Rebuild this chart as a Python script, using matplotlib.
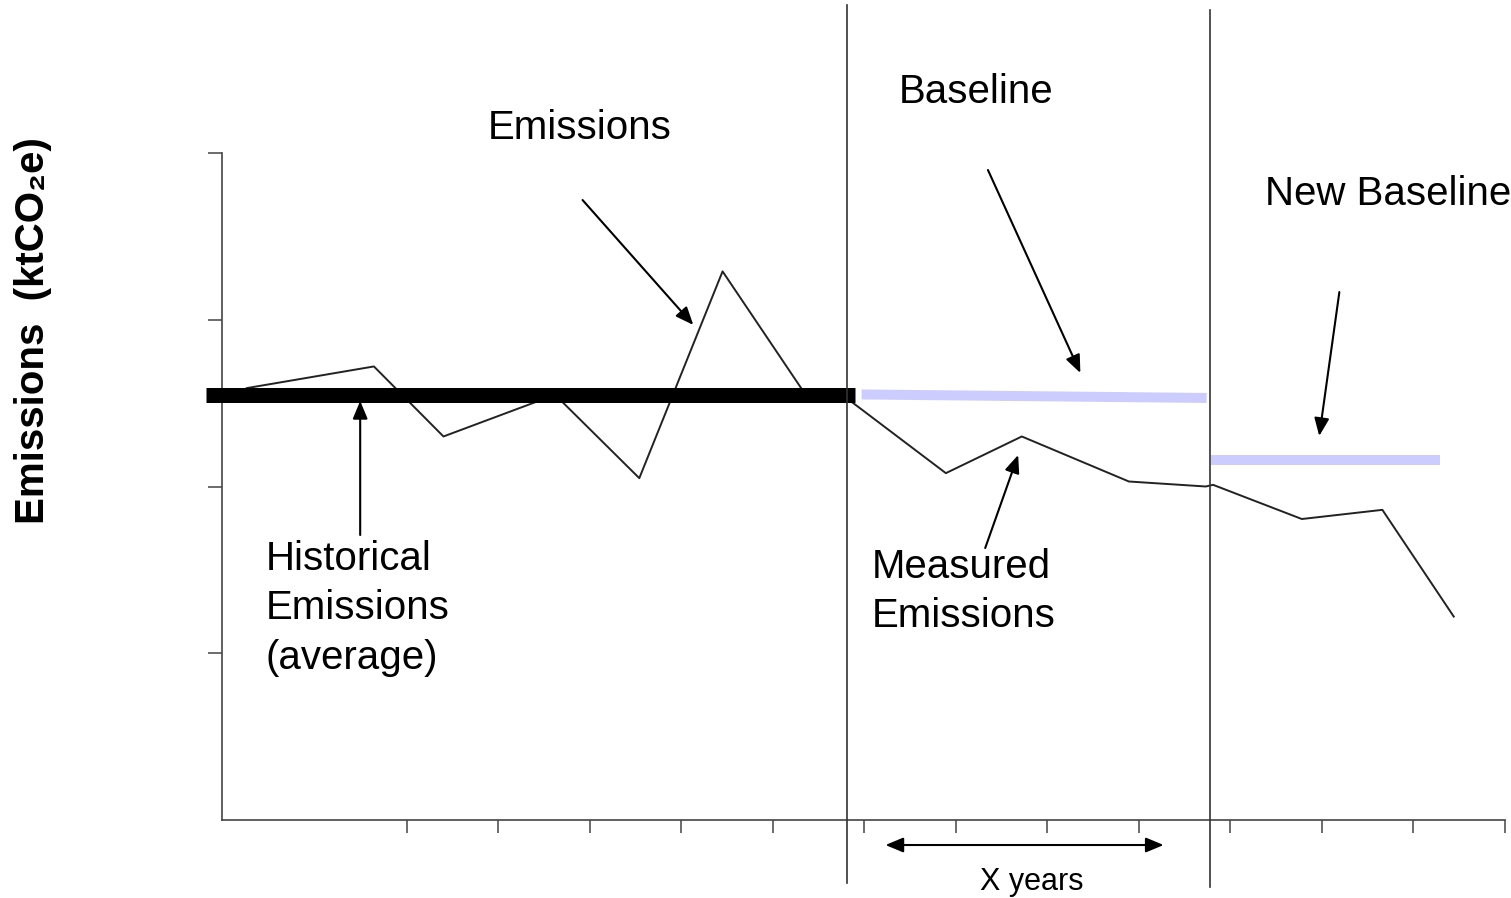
import matplotlib
matplotlib.use("Agg")
import matplotlib.pyplot as plt

plt.rcParams["font.family"] = ["Liberation Sans", "DejaVu Sans"]

# emissions line (x in years, y in ktCO2e)
emis_x = [0.25, 1.64, 2.40, 3.62, 4.54, 5.45, 6.37, 6.83, 7.89, 8.72, 9.89, 10.73, 10.81, 11.78, 12.66, 13.44]
emis_y = [25.9, 27.2, 23.0, 25.5, 20.5, 32.9, 25.4, 25.2, 20.8, 23.0, 20.3, 20.0, 20.1, 18.05, 18.6, 12.2]

# historical average and the two baselines
hist_x = [-0.19, 6.90]
hist_y = [25.46, 25.46]
base1_x = [6.97, 10.74]
base1_y = [25.52, 25.31]
base2_x = [10.79, 13.29]
base2_y = [21.59, 21.59]

# period dividers
breaks = [6.81, 10.78]

x_ticks = list(range(2, 15))
y_ticks = [10, 20, 30, 40]

fig = plt.figure(figsize=(15.11, 8.98), dpi=100)
ax = fig.add_axes([222 / 1511, 78 / 898, 1283 / 1511, 667 / 898])
ax.set_xlim(-0.02, 14.0)
ax.set_ylim(0, 40)

for s in ["top", "right"]:
    ax.spines[s].set_visible(False)
ax.spines["left"].set_color("#444444")
ax.spines["bottom"].set_color("#444444")
ax.spines["left"].set_linewidth(1.2)
ax.spines["bottom"].set_linewidth(1.2)

ax.set_xticks(x_ticks)
ax.set_yticks(y_ticks)
ax.set_xticklabels([])
ax.set_yticklabels([])
ax.tick_params(axis="x", direction="out", length=9, width=1.1, color="#444444")
ax.tick_params(axis="y", direction="out", length=10, width=1.1, color="#444444")

# lines
ax.plot(emis_x, emis_y, color="#222222", lw=1.4, zorder=3)
ax.plot(hist_x, hist_y, color="black", lw=10.8, solid_capstyle="butt", clip_on=False, zorder=4)
ax.plot(base1_x, base1_y, color="#ccccff", lw=7.2, solid_capstyle="butt", zorder=4)
ax.plot(base2_x, base2_y, color="#ccccff", lw=7.2, solid_capstyle="butt", zorder=4)

ax.plot([breaks[0], breaks[0]], [48.9, -3.8], color="#333333", lw=1.2, clip_on=False, zorder=5)
ax.plot([breaks[1], breaks[1]], [48.6, -4.0], color="#333333", lw=1.2, clip_on=False, zorder=5)

arrow = dict(arrowstyle="-|>,head_length=0.6,head_width=0.25", color="black",
             lw=1.5, shrinkA=0, shrinkB=0, mutation_scale=18)

def pointer(tip, start):
    ax.annotate("", xy=tip, xytext=start, arrowprops=arrow, annotation_clip=False, zorder=6)

fs = 29

ax.text(2.88, 40.84, "Emissions", fontsize=fs, ha="left", va="baseline")
pointer((5.13, 29.69), (3.92, 37.18))

ax.text(7.37, 43.0, "Baseline", fontsize=fs, ha="left", va="baseline")
pointer((9.36, 26.81), (8.35, 38.98))

ax.text(11.38, 36.88, "New Baseline", fontsize=fs, ha="left", va="baseline")
pointer((11.97, 23.03), (12.19, 31.66))

for txt, yy in zip(["Historical", "Emissions", "(average)"], [14.99, 12.05, 9.06]):
    ax.text(0.46, yy, txt, fontsize=fs, ha="left", va="baseline")
pointer((1.49, 25.13), (1.49, 17.09))

for txt, yy in zip(["Measured", "Emissions"], [14.51, 11.57]):
    ax.text(7.08, yy, txt, fontsize=fs, ha="left", va="baseline")
pointer((8.68, 21.89), (8.32, 16.31))

ax.annotate("", xy=(10.27, -1.5), xytext=(7.23, -1.5), annotation_clip=False,
            arrowprops=dict(arrowstyle="<|-|>,head_length=0.6,head_width=0.25", color="black",
                            lw=1.5, shrinkA=0, shrinkB=0, mutation_scale=18))
ax.text(8.83, -4.2, "X years", fontsize=22, ha="center", va="baseline")

fig.text(33 / 1511, 1 - 331 / 898, "Emissions  (ktCO₂e)", rotation=90, fontsize=fs,
         fontweight="bold", ha="center", va="center")

fig.savefig("out.png", dpi=100)
